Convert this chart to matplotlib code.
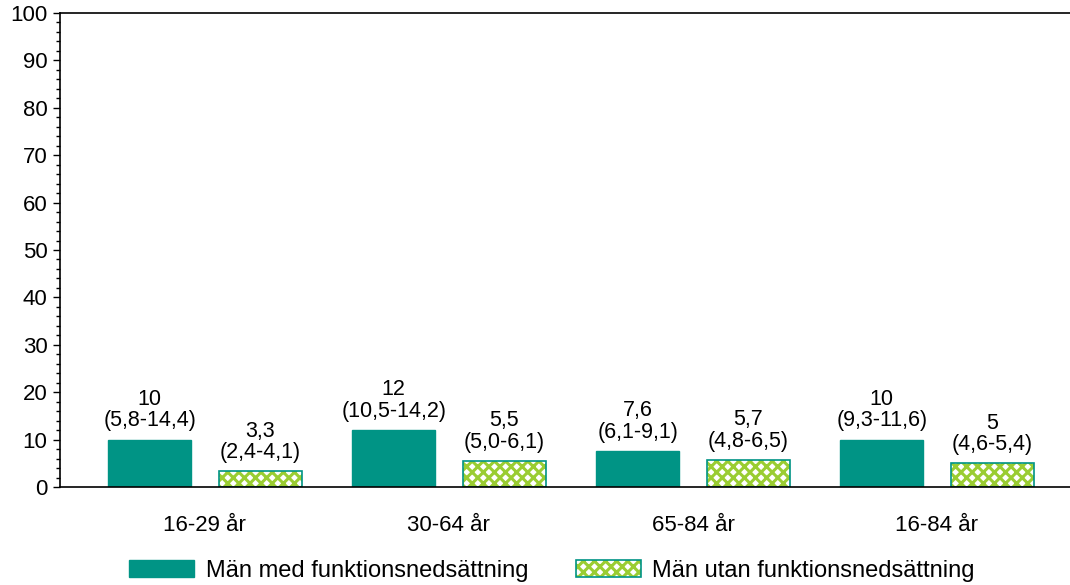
import numpy as np
import matplotlib
matplotlib.use("Agg")
import matplotlib.pyplot as plt
from matplotlib.patches import Patch
from matplotlib.ticker import MultipleLocator

plt.rcParams['font.family'] = ['Liberation Sans', 'DejaVu Sans']
plt.rcParams['hatch.linewidth'] = 2.2

categories = ["16-29 år", "30-64 år", "65-84 år", "16-84 år"]
series_names = ["Män med funktionsnedsättning", "Män utan funktionsnedsättning"]

med_values = [10, 12, 7.6, 10]
med_labels = ["10", "12", "7,6", "10"]
med_ci = ["(5,8-14,4)", "(10,5-14,2)", "(6,1-9,1)", "(9,3-11,6)"]

utan_values = [3.3, 5.5, 5.7, 5]
utan_labels = ["3,3", "5,5", "5,7", "5"]
utan_ci = ["(2,4-4,1)", "(5,0-6,1)", "(4,8-6,5)", "(4,6-5,4)"]

teal = "#009485"
green = "#9acd32"

fig = plt.figure(figsize=(10.7, 5.85), dpi=100)
ax = fig.add_axes([0.056, 0.1675, 0.944, 0.8103])

x = np.arange(len(categories))
w = 0.34
off = 0.226

ax.bar(x - off, med_values, w, color=teal, edgecolor=teal, linewidth=1)
# hatched bars: green hatch on white, teal outline
ax.bar(x + off, utan_values, w, color="white", edgecolor=green, hatch="xxx", linewidth=0)
ax.bar(x + off, utan_values, w, fill=False, edgecolor=teal, linewidth=1.2)

for xi, v, lab, ci in zip(x - off, med_values, med_labels, med_ci):
    ax.annotate(lab + "\n" + ci, (xi, v), xytext=(0, 6), textcoords="offset points",
                ha="center", va="bottom", fontsize=15.5, linespacing=1.02)
for xi, v, lab, ci in zip(x + off, utan_values, utan_labels, utan_ci):
    ax.annotate(lab + "\n" + ci, (xi, v), xytext=(0, 6), textcoords="offset points",
                ha="center", va="bottom", fontsize=15.5, linespacing=1.02)

ax.set_xlim(-0.594, 3.545)
ax.set_ylim(0, 100)
ax.yaxis.set_major_locator(MultipleLocator(10))
ax.yaxis.set_minor_locator(MultipleLocator(2))
ax.tick_params(axis="y", which="major", length=5, width=1, labelsize=16, pad=4)
ax.tick_params(axis="y", which="minor", length=3, width=1)
ax.set_xticks(x)
ax.set_xticklabels(categories)
ax.tick_params(axis="x", length=0, labelsize=16, pad=20)
ax.spines["right"].set_visible(False)
for s in ["left", "top", "bottom"]:
    ax.spines[s].set_linewidth(1.2)

handles = [
    Patch(facecolor=teal, edgecolor=teal),
    (Patch(facecolor="white", edgecolor=green, hatch="xxx", linewidth=0),
     Patch(fill=False, edgecolor=teal, linewidth=1.2)),
]
leg = fig.legend(handles, series_names, loc="center", bbox_to_anchor=(0.516, 0.024),
                 ncol=2, frameon=False, fontsize=17, handlelength=2.75, handleheight=0.76,
                 columnspacing=2.0, handletextpad=0.5)

fig.savefig("out.png", dpi=100)
